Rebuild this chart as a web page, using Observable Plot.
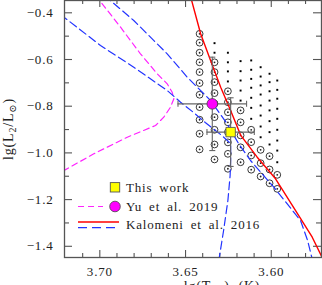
<!DOCTYPE html>
<html><head><meta charset="utf-8">
<script src="https://cdn.jsdelivr.net/npm/d3@7"></script>
<script src="https://cdn.jsdelivr.net/npm/@observablehq/plot@0.6"></script>
<style>
html,body{margin:0;padding:0;background:#fff;}
#chart{width:322px;height:285px;overflow:hidden;position:relative;}
</style></head><body><div id="chart"></div>
<script>
// ---- axis ticks ----
const xMajor = [3.70, 3.65, 3.60];
const xMinor = [3.71, 3.69, 3.68, 3.67, 3.66, 3.64, 3.63, 3.62, 3.61, 3.59, 3.58];
const yMajor = [-0.4, -0.6, -0.8, -1.0, -1.2, -1.4];
const yMinor = [-0.5, -0.7, -0.9, -1.1, -1.3];

// ---- tracks ----
const yuTeff = [3.7024, 3.6986, 3.6879, 3.6763, 3.6665, 3.6607, 3.6578, 3.6568, 3.6588, 3.6627, 3.6675, 3.6840, 3.7035, 3.7240];
const yuLum  = [-0.3259, -0.3615, -0.4617, -0.5756, -0.6612, -0.7041, -0.7400, -0.7683, -0.8043, -0.8471, -0.8827, -0.9328, -1.0039, -1.0880];

const kalRedTeff = [3.6477, 3.6412, 3.6354, 3.6295, 3.6237, 3.6178, 3.6082, 3.5975, 3.5870, 3.5761, 3.5701];
const kalRedLum  = [-0.313, -0.4899, -0.6043, -0.7186, -0.8184, -0.9250, -1.0184, -1.1109, -1.2338, -1.3610, -1.4512];

const kalBlueATeff = [3.6973, 3.6802, 3.6607, 3.6490, 3.6354, 3.6257, 3.6191, 3.6121, 3.5985, 3.5829, 3.5788, 3.5759];
const kalBlueALum  = [-0.3259, -0.4330, -0.5756, -0.6758, -0.7756, -0.8754, -0.9597, -1.0325, -1.1469, -1.2899, -1.3756, -1.4612];

const kalBlueBTeff = [3.7229, 3.6996, 3.6802, 3.6607, 3.6529, 3.6453, 3.6385, 3.6288, 3.6237, 3.6237, 3.6240, 3.6253, 3.6278, 3.6306];
const kalBlueBLum  = [-0.4073, -0.5400, -0.6330, -0.7328, -0.7829, -0.8270, -0.8698, -0.9255, -0.9597, -1.0325, -1.0968, -1.2038, -1.3323, -1.4608];

// ---- model grid ----
const gridTeff = [3.6418, 3.6331, 3.6253, 3.6179, 3.6117, 3.6062, 3.6010, 3.5965];
const plainLum = [
  [],
  [-0.530, -0.571],
  [-0.571, -0.612, -0.651, -0.694],
  [-0.607, -0.650, -0.690, -0.733, -0.776],
  [-0.604, -0.644, -0.683, -0.721, -0.764, -0.807, -0.854],
  [-0.633, -0.673, -0.711, -0.750, -0.797, -0.840, -0.887, -0.933],
  [-0.661, -0.697, -0.736, -0.776, -0.818, -0.864, -0.911, -0.964],
  [-0.690, -0.730, -0.768, -0.811, -0.854, -0.901, -0.947, -0.990, -1.040]
];
const ringLum = [
  [-0.490, -0.528, -0.571, -0.612, -0.654, -0.701, -0.751, -0.804, -0.858, -0.918, -0.985],
  [-0.612, -0.654, -0.697, -0.744, -0.789, -0.847, -0.901, -0.964, -1.028],
  [-0.736, -0.783, -0.826, -0.869, -0.911, -0.955, -1.004, -1.068],
  [-0.818, -0.869, -0.925, -0.976, -1.040],
  [-0.901, -0.954, -1.011, -1.072],
  [-0.987, -1.044, -1.101],
  [-1.014, -1.071, -1.130],
  [-1.094, -1.154]
];

// ---- observations ----
const yuPointTeff = [3.6344], yuPointLum = [-0.79], yuErrTeff = [0.02], yuErrLum = [0.2];
const thisTeff = [3.6237], thisLum = [-0.911], thisErrTeff = [0.0138], thisErrLum = [0.147];

// ---- legend labels ----
const legendLabels = ["This work", "Yu et al. 2019", "Kalomeni et al. 2016"];

// ---- build tables ----
const rows = (T, L) => T.map((t, i) => ({t, l: L[i]}));
const plainData = gridTeff.flatMap((t, i) => plainLum[i].map(l => ({t, l})));
const ringData = gridTeff.flatMap((t, i) => ringLum[i].map(l => ({t, l})));
const errData = [
  ...yuPointTeff.map((t, i) => ({t, l: yuPointLum[i], et: yuErrTeff[i], el: yuErrLum[i]})),
  ...thisTeff.map((t, i) => ({t, l: thisLum[i], et: thisErrTeff[i], el: thisErrLum[i]}))
];
const capsH = errData.flatMap(d => [{t: d.t - d.et, l: d.l}, {t: d.t + d.et, l: d.l}]);
const capsV = errData.flatMap(d => [{t: d.t, l: d.l - d.el}, {t: d.t, l: d.l + d.el}]);

const hCap = {draw(ctx, size) { const r = Math.sqrt(size / Math.PI); ctx.moveTo(-r, 0); ctx.lineTo(r, 0); }};
const vCap = {draw(ctx, size) { const r = Math.sqrt(size / Math.PI); ctx.moveTo(0, -r); ctx.lineTo(0, r); }};

const W = 322, H = 285, mL = 64, mR = 1, mT = 0, mB = 28;
const pH = H - mT - mB, pW = W - mL - mR;
const axisCol = "#555";
const MAG = "#ff22ff", RED = "#ff0000", BLUE = "#2233ff";

const chart = Plot.plot({
  width: W, height: H,
  marginLeft: mL, marginRight: mR, marginTop: mT, marginBottom: mB,
  style: {fontFamily: "'Liberation Serif', 'DejaVu Serif', serif", fontSize: "13px", background: "#fff", color: "#222", letterSpacing: "0.8px", overflow: "hidden"},
  x: {domain: [3.7206, 3.5707], ticks: xMajor, tickFormat: d3.format(".2f"), tickSize: 0, tickPadding: 9, label: null},
  y: {domain: [-1.448, -0.3473], ticks: yMajor, tickFormat: d3.format(".1f"), tickSize: 0, tickPadding: 11, label: null},
  marks: [
    // inward ticks
    Plot.tickX(xMajor, {x: d => d, insetTop: pH - 7, stroke: axisCol, strokeWidth: 1.1}),
    Plot.tickX(xMajor, {x: d => d, insetBottom: pH - 7, stroke: axisCol, strokeWidth: 1.1}),
    Plot.tickX(xMinor, {x: d => d, insetTop: pH - 4, stroke: axisCol, strokeWidth: 1.1}),
    Plot.tickX(xMinor, {x: d => d, insetBottom: pH - 4, stroke: axisCol, strokeWidth: 1.1}),
    Plot.tickY(yMajor, {y: d => d, insetRight: pW - 8, stroke: axisCol, strokeWidth: 1.1}),
    Plot.tickY(yMajor, {y: d => d, insetLeft: pW - 8, stroke: axisCol, strokeWidth: 1.1}),
    Plot.tickY(yMinor, {y: d => d, insetRight: pW - 5, stroke: axisCol, strokeWidth: 1.1}),
    Plot.tickY(yMinor, {y: d => d, insetLeft: pW - 5, stroke: axisCol, strokeWidth: 1.1}),
    // model grid
    Plot.dot(plainData, {x: "t", y: "l", symbol: "square", r: 1.1, fill: "#000", stroke: null}),
    Plot.dot(ringData, {x: "t", y: "l", r: 3.4, fill: "none", stroke: "#222", strokeWidth: 0.9}),
    Plot.dot(ringData, {x: "t", y: "l", r: 0.9, fill: "#222", stroke: null}),
    // tracks
    Plot.line(rows(yuTeff, yuLum), {x: "t", y: "l", stroke: MAG, strokeWidth: 1.2, strokeDasharray: "6,4", clip: true}),
    Plot.line(rows(kalBlueATeff, kalBlueALum), {x: "t", y: "l", stroke: BLUE, strokeWidth: 1.2, strokeDasharray: "8,4", clip: true}),
    Plot.line(rows(kalBlueBTeff, kalBlueBLum), {x: "t", y: "l", stroke: BLUE, strokeWidth: 1.2, strokeDasharray: "8,4", clip: true}),
    Plot.line(rows(kalRedTeff, kalRedLum), {x: "t", y: "l", stroke: RED, strokeWidth: 1.4, clip: true}),
    // error bars
    Plot.ruleY(errData, {y: "l", x1: d => d.t - d.et, x2: d => d.t + d.et, stroke: "#666", strokeWidth: 1.1}),
    Plot.ruleX(errData, {x: "t", y1: d => d.l - d.el, y2: d => d.l + d.el, stroke: "#666", strokeWidth: 1.1}),
    Plot.dot(capsH, {x: "t", y: "l", symbol: vCap, r: 3, stroke: "#666", strokeWidth: 1.1, fill: "none"}),
    Plot.dot(capsV, {x: "t", y: "l", symbol: hCap, r: 3, stroke: "#666", strokeWidth: 1.1, fill: "none"}),
    // observed points
    Plot.dot(rows(yuPointTeff, yuPointLum), {x: "t", y: "l", r: 5.3, fill: "#ff00ff", stroke: "#444", strokeWidth: 0.8}),
    Plot.dot(rows(thisTeff, thisLum), {x: "t", y: "l", symbol: "square", r: 5.3, fill: "#ffff00", stroke: "#555", strokeWidth: 0.9}),
    Plot.frame({stroke: axisCol, strokeWidth: 1.3})
  ]
});

document.getElementById("chart").appendChild(chart);

// ---- legend & axis titles ----
const svg = d3.select(chart);
const lg = svg.append("g").attr("text-anchor", "start");
// This work
lg.append("rect").attr("x", 110.3).attr("y", 182.6).attr("width", 9.4).attr("height", 9.4)
  .attr("fill", "#ffff00").attr("stroke", "#555").attr("stroke-width", 0.9);
lg.append("text").attr("x", 126).attr("y", 191.5).attr("fill", "#222").attr("text-anchor", "start").attr("word-spacing", "3px").text(legendLabels[0]);
// Yu et al.
lg.append("line").attr("x1", 78).attr("x2", 103).attr("y1", 206.5).attr("y2", 206.5)
  .attr("stroke", MAG).attr("stroke-width", 1.2).attr("stroke-dasharray", "6,4");
lg.append("circle").attr("cx", 115).attr("cy", 206.5).attr("r", 5.3)
  .attr("fill", "#ff00ff").attr("stroke", "#444").attr("stroke-width", 0.8);
lg.append("text").attr("x", 126).attr("y", 210.5).attr("fill", "#222").attr("text-anchor", "start").attr("word-spacing", "3px").text(legendLabels[1]);
// Kalomeni
lg.append("line").attr("x1", 78).attr("x2", 119).attr("y1", 222).attr("y2", 222)
  .attr("stroke", RED).attr("stroke-width", 1.4);
lg.append("line").attr("x1", 78).attr("x2", 119).attr("y1", 227.7).attr("y2", 227.7)
  .attr("stroke", BLUE).attr("stroke-width", 1.2).attr("stroke-dasharray", "9,5");
lg.append("text").attr("x", 126).attr("y", 229.3).attr("fill", "#222").attr("text-anchor", "start").attr("word-spacing", "3px").text(legendLabels[2]);

// y title
const yt = svg.append("text").attr("transform", "translate(13,129) rotate(-90)")
  .attr("text-anchor", "middle").attr("font-size", 14).attr("fill", "#222");
yt.append("tspan").text("lg(L");
yt.append("tspan").attr("dy", 3).attr("font-size", 10).text("2");
yt.append("tspan").attr("dy", -3).text("/L");
yt.append("tspan").attr("dy", 3).attr("font-size", 10).text("⊙");
yt.append("tspan").attr("dy", -3).text(")");

// x title (cut by the bottom edge, as in the reference)
const xt = svg.append("text").attr("x", 222).attr("y", 291)
  .attr("text-anchor", "middle").attr("font-size", 14).attr("fill", "#222");
xt.append("tspan").text("lg(T");
xt.append("tspan").attr("dy", 3).attr("font-size", 10).text("eff");
xt.append("tspan").attr("dy", -3).text(")  (K)");
</script>
</body></html>
